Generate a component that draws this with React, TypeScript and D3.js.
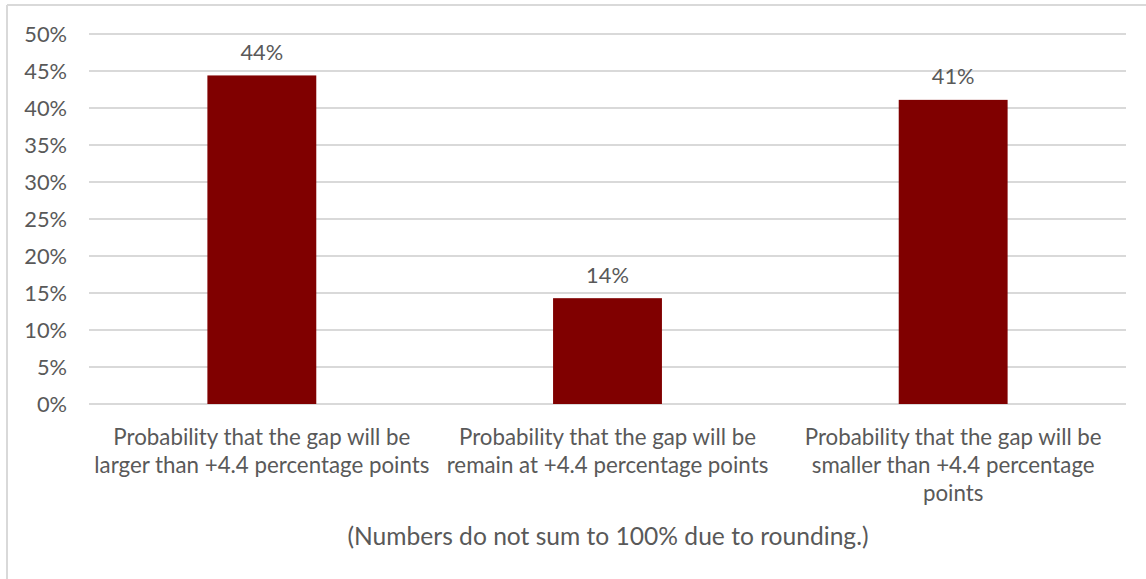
import React from "react";
import * as d3 from "d3";

const categories: string[] = [
  "Probability that the gap will be\nlarger than +4.4 percentage points",
  "Probability that the gap will be\nremain at +4.4 percentage points",
  "Probability that the gap will be\nsmaller than +4.4 percentage\npoints",
];
const values: number[] = [0.444, 0.143, 0.411];
const valueLabels: string[] = ["44%", "14%", "41%"];
const yTicks: number[] = [0, 0.05, 0.1, 0.15, 0.2, 0.25, 0.3, 0.35, 0.4, 0.45, 0.5];
const footnote = "(Numbers do not sum to 100% due to rounding.)";

const W = 1146;
const H = 579;
const FONT = "Lato, 'Open Sans', sans-serif";
const TEXT = "#595959";

export default function App() {
  const left = 89;
  const right = 1126;
  const top = 34;
  const bottom = 404;

  const x = d3
    .scaleBand<number>()
    .domain(categories.map((_, i) => i))
    .range([left, right])
    .paddingInner(0.685)
    .paddingOuter(0.3425);
  const y = d3.scaleLinear().domain([0, 0.5]).range([bottom, top]);
  const fmt = d3.format(".0%");

  return (
    <svg
      width={W}
      height={H}
      style={{ position: "absolute", left: 0, top: 0, background: "#fff" }}
      fontFamily={FONT}
    >
      <rect x={0} y={0} width={W} height={H} fill="#fff" />
      <line x1={7} x2={W} y1={5} y2={5} stroke="#d9d9d9" strokeWidth={2} />
      <line x1={7} x2={7} y1={5} y2={H} stroke="#d9d9d9" strokeWidth={2} />

      {yTicks.map((t) => (
        <g key={t}>
          <line x1={left} x2={right} y1={y(t)} y2={y(t)} stroke="#d9d9d9" strokeWidth={1.8} />
          <text
            x={67}
            y={y(t)}
            dy="0.35em"
            textAnchor="end"
            fontSize={21.8}
            fill={TEXT}
          >
            {fmt(t)}
          </text>
        </g>
      ))}

      {values.map((v, i) => {
        const bx = x(i)!;
        const bw = x.bandwidth();
        return (
          <g key={i}>
            <rect x={bx} y={y(v)} width={bw} height={y(0) - y(v)} fill="#800000" />
            <text
              x={bx + bw / 2}
              y={y(v) - 23}
              dy="0.35em"
              textAnchor="middle"
              fontSize={21.8}
              fill={TEXT}
            >
              {valueLabels[i]}
            </text>
          </g>
        );
      })}

      {categories.map((c, i) => {
        const cx = x(i)! + x.bandwidth() / 2;
        return (
          <text key={i} textAnchor="middle" fontSize={22.3} fill={TEXT}>
            {c.split("\n").map((line, j) => (
              <tspan key={j} x={cx} y={437 + j * 28} dy="0.35em">
                {line}
              </tspan>
            ))}
          </text>
        );
      })}

      <text
        x={608}
        y={536}
        dy="0.35em"
        textAnchor="middle"
        fontSize={24.6}
        fill={TEXT}
      >
        {footnote}
      </text>
    </svg>
  );
}
